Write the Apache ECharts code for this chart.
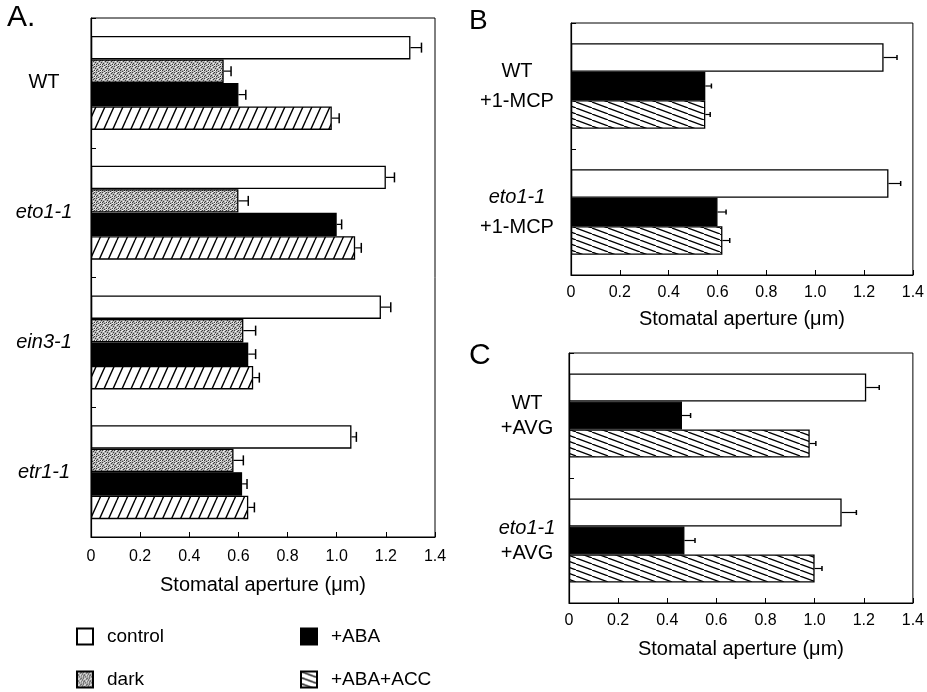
<!DOCTYPE html>
<html><head><meta charset="utf-8">
<script src="https://cdn.jsdelivr.net/npm/echarts@6/dist/echarts.min.js"></script>
<style>html,body{margin:0;padding:0;background:#fff}#c{width:927px;height:692px}</style>
</head><body><div id="c"></div>
<script>
// ---------- data ----------
const xTickLabels = ['0', '0.2', '0.4', '0.6', '0.8', '1.0', '1.2', '1.4'];
const axisTitle = 'Stomatal aperture (\u03bcm)';

// Panel A
const catsA = ['WT', 'eto1-1', 'ein3-1', 'etr1-1'];
const controlA = [1.30, 1.20, 1.18, 1.06];
const controlErrA = [0.045, 0.035, 0.04, 0.02];
const darkA = [0.54, 0.60, 0.62, 0.58];
const darkErrA = [0.03, 0.04, 0.05, 0.04];
const abaA = [0.60, 1.00, 0.64, 0.615];
const abaErrA = [0.03, 0.02, 0.03, 0.02];
const abaAccA = [0.98, 1.075, 0.66, 0.64];
const abaAccErrA = [0.03, 0.025, 0.025, 0.025];

// Panel B
const catsB = ['WT\n+1-MCP', 'eto1-1\n+1-MCP'];
const controlB = [1.28, 1.30];
const controlErrB = [0.055, 0.05];
const abaB = [0.55, 0.60];
const abaErrB = [0.025, 0.035];
const abaAccB = [0.55, 0.62];
const abaAccErrB = [0.02, 0.03];

// Panel C
const catsC = ['WT\n+AVG', 'eto1-1\n+AVG'];
const controlC = [1.21, 1.11];
const controlErrC = [0.053, 0.06];
const abaC = [0.46, 0.47];
const abaErrC = [0.035, 0.043];
const abaAccC = [0.98, 1.00];
const abaAccErrC = [0.025, 0.03];

const legendNames = ['control', 'dark', '+ABA', '+ABA+ACC'];
const panelLetters = ['A.', 'B', 'C'];

// ---------- styles ----------
const FONT = '"Liberation Sans", Arial, sans-serif';

function hatch(w, h, dir, lw) {
  const c = document.createElement('canvas'); c.width = w; c.height = h;
  const g = c.getContext('2d');
  g.fillStyle = '#fff'; g.fillRect(0, 0, w, h);
  g.strokeStyle = '#000'; g.lineWidth = lw; g.beginPath();
  for (let k = -1; k <= 1; k++) {
    if (dir === '/') { g.moveTo(k * w, h); g.lineTo((k + 1) * w, 0); }
    else { g.moveTo(k * w, 0); g.lineTo((k + 1) * w, h); }
  }
  g.stroke();
  return c;
}
function stipple() {
  const c = document.createElement('canvas'); c.width = 6; c.height = 6;
  const g = c.getContext('2d');
  g.fillStyle = '#b5b5b5'; g.fillRect(0, 0, 6, 6);
  g.fillStyle = '#3e3e3e';
  [[0,0],[3,1],[1,3],[4,4],[2,5],[5,2],[0,4],[4,0]].forEach(p => g.fillRect(p[0], p[1], 1, 1));
  g.fillStyle = '#f4f4f4';
  [[2,0],[5,4],[1,1],[3,3],[4,5]].forEach(p => g.fillRect(p[0], p[1], 1, 1));
  return c;
}
const fills = {
  control: '#ffffff',
  dark: { image: stipple(), repeat: 'repeat' },
  aba: '#000000',
  accA: { image: hatch(9, 20, '/', 1.4), repeat: 'repeat' },
  accBC: { image: hatch(16, 6, '\\', 1.3), repeat: 'repeat' }
};

// ---------- helpers ----------
const grids = [
  { left: 91, top: 18, width: 344, height: 519 },
  { left: 571, top: 23, width: 350, height: 252 },
  { left: 569, top: 353, width: 349, height: 250 }
];
const labelMargins = [47, 54, 42];
const lineHeights = [30, 30, 25];
const barWidths = [23.5, 28.5, 28];
const capSizes = [10, 5, 5];
const tickMargins = [12, 10, 10];
const nameGaps = [38, 34, 36];

function xAxisCfg(i) {
  return {
    gridIndex: i, type: 'value', min: 0, max: 1.4, interval: 0.2,
    axisLine: { show: true, lineStyle: { color: '#000', width: 1.2 } },
    axisTick: { show: true, inside: true, length: 5, lineStyle: { color: '#000' } },
    splitLine: { show: false },
    axisLabel: { formatter: (v, idx) => xTickLabels[idx], fontSize: 16, fontFamily: FONT, color: '#000', margin: tickMargins[i] },
    name: axisTitle, nameLocation: 'middle', nameGap: nameGaps[i],
    nameTextStyle: { fontSize: 20, fontFamily: FONT, color: '#000' }
  };
}
function yAxisCfg(i, cats) {
  return {
    gridIndex: i, type: 'category', data: cats, inverse: true,
    axisLine: { show: true, lineStyle: { color: '#000', width: 1.2 } },
    axisTick: { show: true, inside: true, length: 5, lineStyle: { color: '#000' } },
    axisLabel: {
      align: 'center', margin: labelMargins[i], interval: 0,
      formatter: v => v.split('\n').map(s => (s === 'WT' || s.startsWith('+')) ? '{n|' + s + '}' : '{i|' + s + '}').join('\n'),
      rich: {
        n: { fontSize: 20, fontFamily: FONT, color: '#000', lineHeight: lineHeights[i] },
        i: { fontSize: 20, fontFamily: FONT, color: '#000', fontStyle: 'italic', lineHeight: lineHeights[i] }
      }
    }
  };
}
function barSeries(i, name, data, fill) {
  return {
    type: 'bar', name, xAxisIndex: i, yAxisIndex: i, data,
    barWidth: barWidths[i], barGap: '0%',
    itemStyle: { color: fill, borderColor: '#000', borderWidth: 1.3 },
    emphasis: { disabled: true }, silent: true
  };
}
function errSeries(i, vals, errs) {
  const data = [];
  vals.forEach((arr, si) => arr.forEach((v, ci) => data.push([v, ci, errs[si][ci], si])));
  const n = vals.length, bw = barWidths[i], cap = capSizes[i];
  return {
    type: 'custom', name: 'err' + i, xAxisIndex: i, yAxisIndex: i, data,
    encode: { x: 0, y: 1 }, silent: true, z: 3,
    renderItem(params, api) {
      const v = api.value(0), ci = api.value(1), e = api.value(2), si = api.value(3);
      const p0 = api.coord([v, ci]), p1 = api.coord([v + e, ci]);
      const y = p0[1] - n * bw / 2 + (si + 0.5) * bw;
      return {
        type: 'group', children: [
          { type: 'line', shape: { x1: p0[0], y1: y, x2: p1[0], y2: y }, style: { stroke: '#000', lineWidth: 1.2 } },
          { type: 'line', shape: { x1: p1[0], y1: y - cap / 2, x2: p1[0], y2: y + cap / 2 }, style: { stroke: '#000', lineWidth: 1.5 } }
        ]
      };
    }
  };
}

const series = [
  // panel B first so legend icons for +ABA+ACC use the "\" hatch
  barSeries(1, 'control', controlB, fills.control),
  barSeries(1, '+ABA', abaB, fills.aba),
  barSeries(1, '+ABA+ACC', abaAccB, fills.accBC),
  errSeries(1, [controlB, abaB, abaAccB], [controlErrB, abaErrB, abaAccErrB]),
  barSeries(2, 'control', controlC, fills.control),
  barSeries(2, '+ABA', abaC, fills.aba),
  barSeries(2, '+ABA+ACC', abaAccC, fills.accBC),
  errSeries(2, [controlC, abaC, abaAccC], [controlErrC, abaErrC, abaAccErrC]),
  barSeries(0, 'control', controlA, fills.control),
  barSeries(0, 'dark', darkA, fills.dark),
  barSeries(0, '+ABA', abaA, fills.aba),
  barSeries(0, '+ABA+ACC', abaAccA, fills.accA),
  errSeries(0, [controlA, darkA, abaA, abaAccA], [controlErrA, darkErrA, abaErrA, abaAccErrA])
];

const legendPos = [[76, 627], [76, 670], [300, 627], [300, 670]];
const legends = legendNames.map((nm, k) => ({
  data: [nm], left: legendPos[k][0], top: legendPos[k][1],
  orient: 'horizontal', itemWidth: 16, itemHeight: 16, icon: 'rect', padding: 0,
  selectedMode: false,
  textStyle: { fontSize: 19, fontFamily: FONT, color: '#000', padding: [0, 0, 0, 9] }
}));

const chart = echarts.init(document.getElementById('c'), null, { renderer: 'canvas' });
chart.setOption({
  animation: false,
  backgroundColor: '#fff',
  grid: grids.map(g => Object.assign({ show: true, borderColor: '#000', borderWidth: 1, backgroundColor: 'transparent' }, g)),
  xAxis: [0, 1, 2].map(xAxisCfg),
  yAxis: [yAxisCfg(0, catsA), yAxisCfg(1, catsB), yAxisCfg(2, catsC)],
  legend: legends,
  graphic: [
    { type: 'text', left: 7, top: 3, style: { text: panelLetters[0], font: '30px ' + FONT, fill: '#000' } },
    { type: 'text', left: 469, top: 7, style: { text: panelLetters[1], font: '28px ' + FONT, fill: '#000' } },
    { type: 'text', left: 469, top: 341, style: { text: panelLetters[2], font: '30px ' + FONT, fill: '#000' } }
  ],
  series
});
</script></body></html>
